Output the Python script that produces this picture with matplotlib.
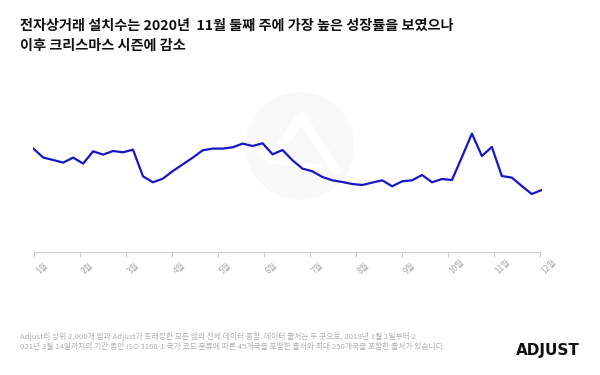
import numpy as np
import matplotlib
matplotlib.use("Agg")
import matplotlib.pyplot as plt
from matplotlib.patches import Circle

plt.rcParams['font.family'] = ['Noto Sans CJK KR', 'DejaVu Sans']

# 주간 설치 성장 지수
values = [103.7, 94.7, 92.3, 89.7, 94.7, 88.7, 101, 97.7, 101.3, 100,
          102.7, 76, 70, 73.7, 81.3, 88, 94.7, 102, 103.7, 103.7,
          105, 108.7, 106.3, 109, 98, 102.3, 92, 83.7, 81, 75.3,
          72, 70.3, 68.3, 67.3, 69.7, 72, 66, 71, 72, 77.3,
          70, 73.3, 72.3, 95.3, 118.7, 96.3, 105.3, 76.3, 74.7, 66.3,
          58.3, 62.3]
months = ['1월', '2월', '3월', '4월', '5월', '6월', '7월', '8월', '9월', '10월', '11월', '12월']

title = '전자상거래 설치수는 2020년  11월 둘째 주에 가장 높은 성장률을 보였으나\n이후 크리스마스 시즌에 감소'
footer = ('Adjust의 상위 2,000개 앱과 Adjust가 트래킹한 모든 앱의 전체 데이터 종합. 데이터 출처는 두 곳으로, 2019년 1월 1일부터 2\n'
          '021년 3월 14일까지의 기간 동안 ISO 3166-1 국가 코드 분류에 따른 45개국을 포함한 출처와 최대 250개국을 포함한 출처가 있습니다.')

fig = plt.figure(figsize=(6, 3.75), dpi=100)

# 배경 워터마크 (픽셀 좌표)
bg = fig.add_axes([0, 0, 1, 1], zorder=0)
bg.set_xlim(0, 600)
bg.set_ylim(375, 0)
bg.axis('off')
bg.add_patch(Circle((300, 146), 54, color='#f8f8f8', lw=0))
bg.plot([262, 272, 301, 336], [152, 160, 117, 170], color='white', lw=7,
        solid_capstyle='round', solid_joinstyle='round')
bg.plot([272, 318], [160, 168], color='white', lw=5, solid_capstyle='round')

ax = fig.add_axes([33.3 / 600, (375 - 252.3) / 375, (541.7 - 33.3) / 600, 172.3 / 375], zorder=1)
ax.patch.set_alpha(0)
x = np.arange(len(values))
ax.plot(x, values, color='#1616c8', lw=1.6, solid_joinstyle='round')
ax.set_xlim(0, len(values) - 1)
ax.set_ylim(0, 172.3)

ticks = np.linspace(0.1, 50.8, len(months))
ax.set_xticks(ticks)
ax.set_xticklabels(months, rotation=45, ha='left', va='top', fontsize=6, color='#aaaaaa')
ax.tick_params(axis='x', length=3.5, width=0.8, color='#cccccc', pad=9)
for lbl in ax.get_xticklabels():
    lbl.set_rotation_mode('anchor')
ax.set_yticks([])
for s in ['top', 'right', 'left']:
    ax.spines[s].set_visible(False)
ax.spines['bottom'].set_color('#cccccc')
ax.spines['bottom'].set_linewidth(0.8)
ax.spines['bottom'].set_bounds(ticks[0], ticks[-1])

tl = title.split('\n')
fig.text(20 / 600, 1 - 25.5 / 375, tl[0], fontsize=10.2, fontweight='bold', va='center', ha='left', color='#111111')
fig.text(20 / 600, 1 - 46 / 375, tl[1], fontsize=10.2, fontweight='bold', va='center', ha='left', color='#111111')

flines = footer.split('\n')
fig.text(20 / 600, 1 - 336.7 / 375, flines[0], fontsize=5.6, va='center', ha='left', color='#b0b0b0')
fig.text(20 / 600, 1 - 346.7 / 375, flines[1], fontsize=5.6, va='center', ha='left', color='#b0b0b0')

fig.text(580 / 600, 1 - 350.5 / 375, 'ADJUST', fontsize=11, fontweight='bold', va='center', ha='right', color='#111111', family='DejaVu Sans')

fig.savefig('out.png', dpi=100)
